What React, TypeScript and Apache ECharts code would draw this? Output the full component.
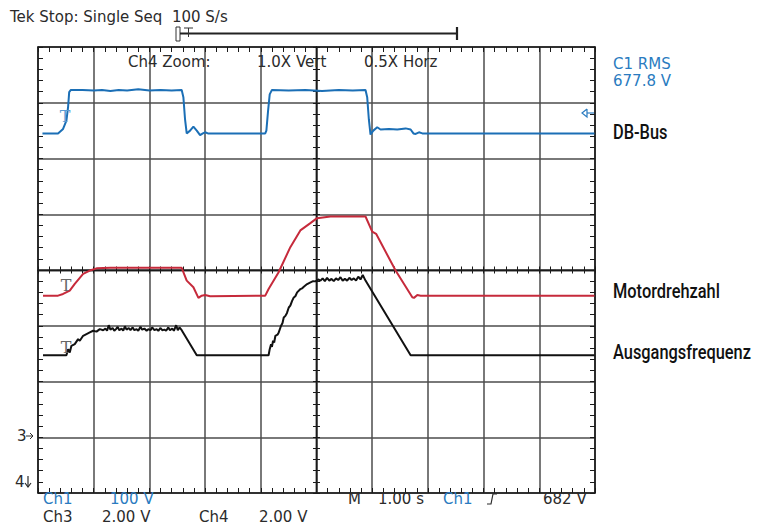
import React, { useEffect, useRef } from 'react';
import * as echarts from 'echarts';

// time in seconds relative to screen centre (1.00 s/div), amplitude in divisions
const dbBus: [number, number][] = [
  [-4.92, 2.45], [-4.64, 2.45], [-4.55, 2.53], [-4.49, 2.68], [-4.46, 2.92], [-4.44, 3.19], [-4.41, 3.23],
  [-4.2, 3.23], [-4.0, 3.22], [-3.85, 3.23], [-3.7, 3.21], [-3.55, 3.23], [-3.4, 3.22], [-3.2, 3.24], [-3.0, 3.22],
  [-2.8, 3.23], [-2.6, 3.22], [-2.42, 3.23],
  [-2.39, 3.1], [-2.36, 2.7], [-2.33, 2.45], [-2.27, 2.5], [-2.21, 2.57], [-2.15, 2.5], [-2.09, 2.42], [-2.04, 2.45],
  [-2.0, 2.47], [-1.95, 2.45], [-0.92, 2.45],
  [-0.9, 2.5], [-0.87, 2.85], [-0.84, 3.15], [-0.8, 3.23], [-0.5, 3.22], [-0.2, 3.23], [0.1, 3.21], [0.4, 3.23],
  [0.65, 3.22], [0.88, 3.23],
  [0.91, 3.1], [0.94, 2.7], [0.97, 2.43], [1.02, 2.5], [1.09, 2.56], [1.15, 2.52], [1.3, 2.53], [1.45, 2.52],
  [1.6, 2.54], [1.69, 2.52], [1.74, 2.45], [1.78, 2.44], [1.84, 2.47], [1.9, 2.45], [4.99, 2.45],
];

const motordrehzahl: [number, number][] = [
  [-4.91, -0.46], [-4.64, -0.46], [-4.55, -0.43], [-4.43, -0.37], [-4.34, -0.25], [-4.19, -0.07], [-4.07, -0.01],
  [-3.95, 0.03], [-3.7, 0.04], [-3.2, 0.04], [-2.7, 0.04], [-2.42, 0.04], [-2.33, -0.19], [-2.21, -0.31],
  [-2.12, -0.5], [-2.06, -0.46], [-2.0, -0.45], [-1.91, -0.47], [-0.92, -0.46], [-0.86, -0.34], [-0.68, -0.04],
  [-0.47, 0.41], [-0.29, 0.71], [-0.11, 0.84], [0.01, 0.93], [0.25, 0.96], [0.88, 0.96], [1.0, 0.69],
  [1.07, 0.65], [1.42, -0.01], [1.72, -0.49], [1.75, -0.5], [1.81, -0.45], [1.87, -0.46], [4.99, -0.46],
];

const ausgangsfrequenz: [number, number][] = [
  [-4.91, -1.53], [-4.49, -1.53], [-4.46, -1.42], [-4.43, -1.48], [-4.4, -1.36], [-4.34, -1.33], [-4.28, -1.24],
  [-4.25, -1.27], [-4.19, -1.18], [-4.13, -1.15], [-4.07, -1.12], [-4.01, -1.09], [-3.95, -1.105], [-3.89, -1.06],
  [-3.83, -1.08], [-3.79, -1.05], [-3.76, -1.09], [-3.73, -0.99], [-3.7, -1.07], [-3.66, -1.04], [-3.63, -1.09],
  [-3.6, -1.06], [-3.57, -1.02], [-3.54, -1.08], [-3.5, -1.05], [-3.47, -1.09], [-3.44, -1.01], [-3.41, -1.07],
  [-3.37, -1.04], [-3.34, -1.08], [-3.3, -1.03], [-3.27, -1.08], [-3.23, -1.06], [-3.2, -1.09], [-3.16, -1.02],
  [-3.13, -1.07], [-3.09, -1.05], [-3.05, -1.09], [-3.02, -1.06], [-2.98, -1.08], [-2.95, -1.03], [-2.91, -1.08],
  [-2.87, -1.06], [-2.84, -1.09], [-2.8, -1.04], [-2.77, -1.08], [-2.73, -1.07], [-2.7, -1.09], [-2.66, -1.03],
  [-2.63, -1.08], [-2.59, -1.05], [-2.56, -1.09], [-2.52, -0.99], [-2.49, -1.08], [-2.46, -1.03], [-2.42, -1.08],
  [-2.15, -1.53], [-0.86, -1.53],
  [-0.84, -1.42], [-0.816, -1.333], [-0.8, -1.38], [-0.78, -1.27], [-0.76, -1.3], [-0.738, -1.18], [-0.7, -1.16],
  [-0.678, -1.12], [-0.636, -1.0], [-0.61, -0.95], [-0.588, -0.853], [-0.558, -0.823], [-0.53, -0.77],
  [-0.498, -0.673], [-0.47, -0.64], [-0.438, -0.553], [-0.408, -0.492], [-0.38, -0.47], [-0.348, -0.402],
  [-0.288, -0.342], [-0.26, -0.33], [-0.228, -0.3], [-0.168, -0.252], [-0.108, -0.222], [-0.06, -0.2],
  [-0.018, -0.204], [0.03, -0.17], [0.072, -0.19], [0.11, -0.15], [0.15, -0.2], [0.19, -0.14], [0.23, -0.19],
  [0.27, -0.16], [0.31, -0.2], [0.35, -0.15], [0.39, -0.18], [0.43, -0.13], [0.47, -0.19], [0.51, -0.16],
  [0.55, -0.19], [0.59, -0.14], [0.63, -0.18], [0.67, -0.15], [0.71, -0.19], [0.75, -0.12], [0.79, -0.17],
  [0.83, -0.09], [0.86, -0.15], [0.88, -0.19], [1.69, -1.53], [4.99, -1.53],
];

const seriesNames = ['DB-Bus', 'Motordrehzahl', 'Ausgangsfrequenz'];
const seriesColors = ['#1b6fb6', '#c62a3b', '#111111'];
const headerLine = 'Tek Stop: Single Seq  100 S/s';
const zoomTexts = ['Ch4 Zoom:', '1.0X Vert', '0.5X Horz'];
const measureTexts = ['C1 RMS', '677.8 V'];
const bottomRow1 = ['Ch1', '100 V', 'M', '1.00 s', 'Ch1', '682 V'];
const bottomRow2 = ['Ch3', '2.00 V', 'Ch4', '2.00 V'];

export default function App() {
  const ref = useRef<HTMLDivElement>(null);
  useEffect(() => {
    const chart = echarts.init(ref.current!, null, { renderer: 'svg' });
    const tek = '15px "DejaVu Sans", sans-serif';
    const narrow = '500 20px Roboto, "Liberation Sans", sans-serif';
    const dark = '#2b2b2b';
    const blue = '#2a7bc0';
    const axisColor = '#1a1a1a';

    const mkAxis = (min: number, max: number, pos: string, onZero: boolean, len: number, split: boolean) => ({
      type: 'value', min, max, interval: 1, position: pos,
      axisLine: { show: true, onZero, onZeroAxisIndex: 0, lineStyle: { color: axisColor, width: onZero ? 1.4 : 1.6 } },
      axisTick: { show: true, inside: true, length: len, lineStyle: { color: axisColor, width: 1 } },
      minorTick: { show: true, splitNumber: 5, length: len, lineStyle: { color: axisColor, width: 1 } },
      axisLabel: { show: false },
      splitLine: { show: split, lineStyle: { color: '#4d4d4d', width: 1.5 } },
      minorSplitLine: { show: false },
    });

    const txt = (text: string, x: number, y: number, fill: string, font: string, align = 'left', scaleX = 1) => ({
      type: 'text', x, y, scaleX, silent: true, z: 10,
      style: { text, fill, font, textAlign: align, textVerticalAlign: 'middle' },
    });

    const option: any = {
      animation: false,
      backgroundColor: '#ffffff',
      grid: { left: 38, top: 47, width: 557, height: 446, show: false },
      xAxis: [
        mkAxis(-5, 5, 'bottom', false, 5, true),
        mkAxis(-5, 5, 'top', false, 5, false),
        mkAxis(-5, 5, 'bottom', true, 3.5, false),
        mkAxis(-5, 5, 'top', true, 3.5, false),
      ],
      yAxis: [
        mkAxis(-4, 4, 'left', false, 5, true),
        mkAxis(-4, 4, 'right', false, 5, false),
        mkAxis(-4, 4, 'left', true, 3.5, false),
        mkAxis(-4, 4, 'right', true, 3.5, false),
      ],
      series: [dbBus, motordrehzahl, ausgangsfrequenz].map((d, i) => ({
        name: seriesNames[i], type: 'line', data: d, xAxisIndex: 0, yAxisIndex: 0,
        symbol: 'none', smooth: false, z: 5 + i,
        lineStyle: { color: seriesColors[i], width: 2 }, itemStyle: { color: seriesColors[i] },
      })),
      graphic: [
        txt(headerLine, 10, 17, dark, tek),
        // record-length bar
        { type: 'rect', shape: { x: 176, y: 27, width: 4, height: 14 }, style: { fill: 'none', stroke: '#333', lineWidth: 1 } },
        { type: 'line', shape: { x1: 180, y1: 33.5, x2: 457, y2: 33.5 }, style: { stroke: '#222', lineWidth: 2 } },
        { type: 'line', shape: { x1: 457, y1: 27, x2: 457, y2: 40 }, style: { stroke: '#222', lineWidth: 2.2 } },
        { type: 'line', shape: { x1: 184, y1: 28, x2: 193, y2: 28 }, style: { stroke: '#333', lineWidth: 1 } },
        { type: 'line', shape: { x1: 188.5, y1: 28, x2: 188.5, y2: 37 }, style: { stroke: '#333', lineWidth: 1 } },
        txt(zoomTexts[0], 128, 62, dark, tek),
        txt(zoomTexts[1], 257, 62, dark, tek),
        txt(zoomTexts[2], 364, 62, dark, tek),
        txt(measureTexts[0], 613, 64, blue, tek),
        txt(measureTexts[1], 613, 81, blue, tek),
        txt(seriesNames[0], 613, 132, '#111', narrow, 'left', 0.82),
        txt(seriesNames[1], 613, 291, '#111', narrow, 'left', 0.82),
        txt(seriesNames[2], 613, 352, '#111', narrow, 'left', 0.82),
        // trigger markers
        txt('T', 65, 116, '#5b9bd3', '16px "DejaVu Serif", serif', 'center'),
        txt('T', 66, 285, '#666', '16px "DejaVu Serif", serif', 'center'),
        txt('T', 66, 347, '#666', '16px "DejaVu Serif", serif', 'center'),
        // trigger level marker (right)
        { type: 'polyline', shape: { points: [[587, 109], [582, 113], [587, 117], [587, 109]] }, style: { stroke: blue, fill: 'none', lineWidth: 1.2 } },
        { type: 'line', shape: { x1: 587, y1: 113, x2: 594, y2: 113 }, style: { stroke: blue, lineWidth: 1.2 } },
        // channel ground markers (left)
        txt('3', 17, 436, dark, tek),
        { type: 'line', shape: { x1: 26, y1: 436, x2: 33, y2: 436 }, style: { stroke: dark, lineWidth: 1 } },
        { type: 'polyline', shape: { points: [[30, 433], [33, 436], [30, 439]] }, style: { stroke: dark, fill: 'none', lineWidth: 1 } },
        txt('4', 15, 482, dark, tek),
        { type: 'line', shape: { x1: 28, y1: 476, x2: 28, y2: 487 }, style: { stroke: dark, lineWidth: 1.2 } },
        { type: 'polyline', shape: { points: [[25, 483], [28, 487], [31, 483]] }, style: { stroke: dark, fill: 'none', lineWidth: 1.2 } },
        // bottom readouts
        txt(bottomRow1[0], 43, 499, blue, tek),
        txt(bottomRow1[1], 110, 499, blue, tek),
        txt(bottomRow1[2], 348, 499, dark, tek),
        txt(bottomRow1[3], 378, 499, dark, tek),
        txt(bottomRow1[4], 443, 499, blue, tek),
        { type: 'polyline', shape: { points: [[487, 504], [491, 504], [493, 494], [497, 494]] }, style: { stroke: dark, fill: 'none', lineWidth: 1.2 } },
        txt(bottomRow1[5], 543, 499, dark, tek),
        txt(bottomRow2[0], 43, 517, dark, tek),
        txt(bottomRow2[1], 102, 517, dark, tek),
        txt(bottomRow2[2], 199, 517, dark, tek),
        txt(bottomRow2[3], 259, 517, dark, tek),
      ],
    };
    chart.setOption(option);
    return () => chart.dispose();
  }, []);
  return <div ref={ref} style={{ position: 'fixed', left: 0, top: 0, width: 761, height: 525, background: '#fff' }} />;
}
